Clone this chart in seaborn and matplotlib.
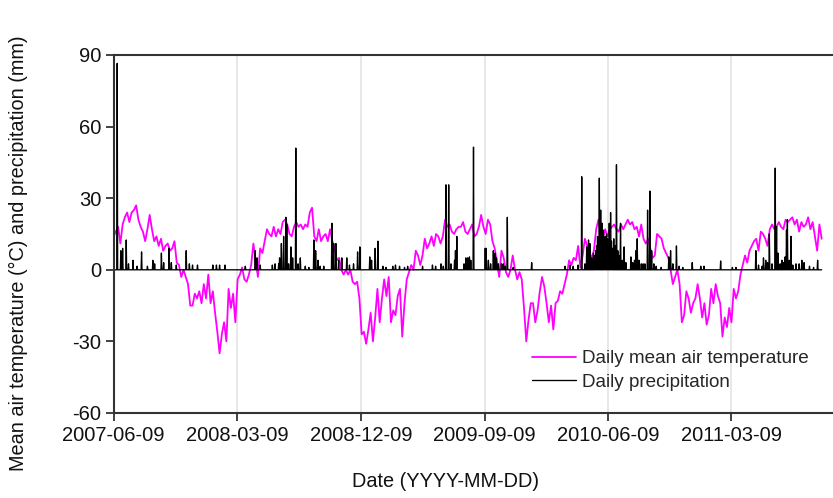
import numpy as np
import pandas as pd
import matplotlib
matplotlib.use("Agg")
import matplotlib.pyplot as plt
import matplotlib.dates as mdates
import seaborn as sns

# ---- data -------------------------------------------------------------
start_date = "2007-06-09"
temp_step_days = 5          # temperature sampled every 5 days
n_days = 1571               # length of daily precipitation record

temperature = [
    14, 16, 18, 11, 19, 22, 24, 20, 24, 25,
    27, 21, 18, 16, 12, 17, 23, 17, 12, 14,
    10, 13, 8, 10, 11, 8, 9, 12, 3, 2,
    -3, 0, -3, -6, -15, -15, -10, -12, -9, -14,
    -6, -12, -2, -14, -9, -18, -26, -35, -27, -22,
    -30, -8, -16, -10, -22, -4,
    -2, 1, -4, -5,
    -2, 2, 11, 4, -3, 9, 7, 12, 17, 15,
    14, 18, 14, 17, 15, 20, 21, 19, 15, 14,
    18, 20, 18, 19, 17, 19, 18, 24, 26, 14,
    12, 17, 12, 14, 15, 12, 17, 12, 9, 4,
    5, 0, -2, 0, -2, 0, -5, -6, -5,
    -12, -27, -26, -31, -25, -18, -30, -20, -8, -22, -12,
    -4, -11, -3, -22, -17, -19, -11, -8, -28, -14,
    -4, -1, 2, 0, 8, 6, 2, 6, 13, 9,
    11, 14, 10, 15, 14, 11, 14, 21, 18, 19,
    16, 15, 17, 18, 18, 20, 16, 15, 17, 19,
    14, 15, 18, 23,
    18, 15, 21, 19, 12, 9,
    3, -3, 8, 5, -1, -3, 0, 6, 0, -4,
    -1, -4, -16, -30, -21, -14, -14, -22, -17, -9,
    -3, -7, -14, -22, -15, -25, -14, -13, -9, -10,
    -6, -2, 4, 2, 5, 4, 10, 1, 6, 13,
    10, 7, 5, 8, 17, 21, 15, 13, 17, 14,
    17, 18, 19, 17, 16, 19, 17, 19, 21, 19,
    20, 17, 18, 14, 19, 13, 11, 13, 9, 5,
    6, 15, 14, 13, 9, 7, 5, 0, -6, -3,
    0, -6, -22, -19, -9, -12, -18, -14, -12, -6,
    -12, -20, -14, -23, -19, -8, -14, -6, -11, -14,
    -28, -20, -24, -16, -22, -8,
    -12, -9, -2, 2, 6, 3, 8, 10, 12, 13,
    8, 16, 15, 13, 10, 17, 19, 17, 18, 20,
    18, 17, 21, 20, 21, 22, 19, 21, 16, 20,
    18, 19, 22, 17, 20, 14, 8, 19, 13,
]

# rainy days (days since start) and their totals in mm
precip_day = [
    8, 16, 20, 28, 33, 43, 52, 62, 75, 87, 91, 106, 111, 123, 128, 139,
    161, 168, 175, 186, 220, 228, 235, 247,
    292, 314, 318, 325, 352, 358, 366, 368, 372, 377, 382, 384, 388, 393,
    397, 404, 409, 414, 425, 433, 444, 448, 453, 458, 466, 484, 488, 493,
    499, 506, 517, 523, 532, 541, 546, 568, 572, 580, 586, 597, 604, 619,
    625, 634, 645, 652, 685, 707, 714, 726, 731, 737, 743, 748, 756, 758,
    761, 777, 781, 785, 789, 792, 798, 824,
    826, 831, 836, 842, 846, 849, 853, 860, 864, 868, 873, 886, 927,
    1001, 1012, 1019, 1030, 1038, 1045, 1049, 1053, 1056, 1060, 1064, 1066,
    1069, 1071, 1073, 1075, 1077, 1080, 1083, 1086, 1088, 1090, 1093, 1095,
    1097, 1099, 1102, 1104, 1106, 1109, 1112, 1115, 1118, 1121, 1124, 1128,
    1132, 1136, 1147, 1151, 1155, 1158, 1161, 1165, 1170, 1174, 1178, 1184,
    1189, 1193, 1198, 1203, 1214, 1231, 1235, 1240, 1248, 1254, 1262, 1283,
    1302, 1309, 1346, 1372,
    1380, 1424, 1430, 1438, 1441, 1446, 1450, 1454, 1460, 1467, 1470, 1473,
    1478, 1482, 1486, 1489, 1492, 1494, 1498, 1502, 1506, 1513, 1520, 1526,
    1531, 1543, 1552, 1561,
]
precip_mm = [
    86.5, 8, 9, 12.5, 2.5, 4, 1.5, 7.5, 1.5, 4, 2.5, 7, 3, 9, 3, 2,
    8, 2.5, 2, 2, 2, 2, 2, 2,
    1.5, 8, 5, 2, 2, 2.5, 2.5, 5, 11, 14, 22, 19, 2.5, 9.6,
    5, 51, 2.5, 5, 1.5, 1, 12.5, 8, 4, 1.5, 1.5, 19.5, 11, 11,
    4, 5, 5, 2, 2.5, 7.5, 9.6, 5.4, 4, 9, 12, 1.5, 1, 1.5,
    2, 1.5, 1, 1.5, 1.5, 2, 1.5, 2.5, 1.5, 35.6, 35.6, 2.5, 4, 8,
    14, 2.5, 5, 5, 5.4, 4, 51.4, 9,
    9, 4, 2.5, 8, 7, 5, 2.5, 2.5, 2.5, 1.5, 22, 1, 3,
    1.5, 2, 1.5, 2, 39, 2.5, 9.6, 12.5, 11, 5, 7, 6,
    8, 10, 14, 9, 38.4, 25, 19.5, 16.6, 12, 14, 15, 13,
    8, 19.5, 24, 12, 9, 13, 10, 44, 8, 6, 19.5, 4,
    9.6, 3, 5.4, 3, 4, 8, 13, 4, 2.5, 2.5, 2.5, 25,
    33, 8, 2.5, 1.5, 1, 5.4, 8, 2.5, 10, 1.5, 1, 3,
    1.5, 1.5, 3.7, 1,
    1, 8, 2, 1.5, 5, 4, 3, 15, 2.5, 42.6, 18, 7,
    2.5, 4, 3, 5.4, 16.6, 21, 4, 14, 2, 2.5, 2.5, 4,
    3, 1.5, 1, 4,
]

tick_dates = ["2007-06-09", "2008-03-09", "2008-12-09",
              "2009-09-09", "2010-06-09", "2011-03-09"]
y_ticks = [-60, -30, 0, 30, 60, 90]

# ---- tables -----------------------------------------------------------
temp_df = pd.DataFrame({
    "date": pd.date_range(start_date, periods=len(temperature),
                          freq=f"{temp_step_days}D"),
    "value": temperature,
})
rain = np.zeros(n_days)
rain[np.array(precip_day)] = precip_mm
rain_df = pd.DataFrame({
    "date": pd.date_range(start_date, periods=n_days, freq="D"),
    "value": rain,
})

# ---- figure -----------------------------------------------------------
sns.set_theme(style="white")
plt.rcParams["font.family"] = ["Liberation Sans", "DejaVu Sans"]
plt.rcParams["axes.unicode_minus"] = False

W, H = 833, 498
fig = plt.figure(figsize=(W / 100, H / 100), dpi=100)
left_px, right_px, top_px, bottom_px = 113.6, 850.0, 55.0, 413.0
ax = fig.add_axes([left_px / W, 1 - bottom_px / H,
                   (right_px - left_px) / W, (bottom_px - top_px) / H])

sns.lineplot(data=temp_df, x="date", y="value", ax=ax, color="#ff00ff",
             lw=1.3, estimator=None, label="Daily mean air temperature")
sns.lineplot(data=rain_df, x="date", y="value", ax=ax, color="black",
             lw=0.95, estimator=None, label="Daily precipitation")

t0 = pd.Timestamp(start_date)
px_per_day = 0.451
ax.set_xlim(t0, t0 + pd.Timedelta(days=(right_px - left_px) / px_per_day))
ax.set_ylim(-60, 90)
ax.set_yticks(y_ticks)
ax.set_xticks(pd.to_datetime(tick_dates))
ax.xaxis.set_major_formatter(mdates.DateFormatter("%Y-%m-%d"))

ax.grid(False)
ax.xaxis.grid(True, color="#e2e2e2", lw=1.1)
ax.set_axisbelow(True)

for side in ["left", "bottom", "top"]:
    ax.spines[side].set_color("#333333")
    ax.spines[side].set_linewidth(1.5)
ax.spines["right"].set_visible(False)

ax.tick_params(axis="both", which="major", direction="out", length=6,
               width=1.3, color="#333333", labelsize=14.5,
               labelcolor="#111111", pad=3, bottom=True, left=True)

ax.set_xlabel("Date (YYYY-MM-DD)", fontsize=14.3, color="#111111")
ax.set_ylabel("Mean air temperature (\u00b0C) and precipitation (mm)",
              fontsize=14.3, color="#111111")
ax_w = right_px - left_px
ax_h = bottom_px - top_px
ax.xaxis.set_label_coords((446 - left_px) / ax_w, (bottom_px - 481) / ax_h)
ax.xaxis.label.set_va("center")
ax.yaxis.set_label_coords((18 - left_px) / ax_w, (bottom_px - 253) / ax_h)
ax.yaxis.label.set_va("center")

ax.legend(loc="upper left",
          bbox_to_anchor=((531.7 - left_px) / ax_w, (bottom_px - 350) / ax_h),
          frameon=False, fontsize=13.6, handlelength=2.35, handletextpad=0.3,
          labelspacing=0.35, borderpad=0, borderaxespad=0)

fig.savefig("out.png", dpi=100)
